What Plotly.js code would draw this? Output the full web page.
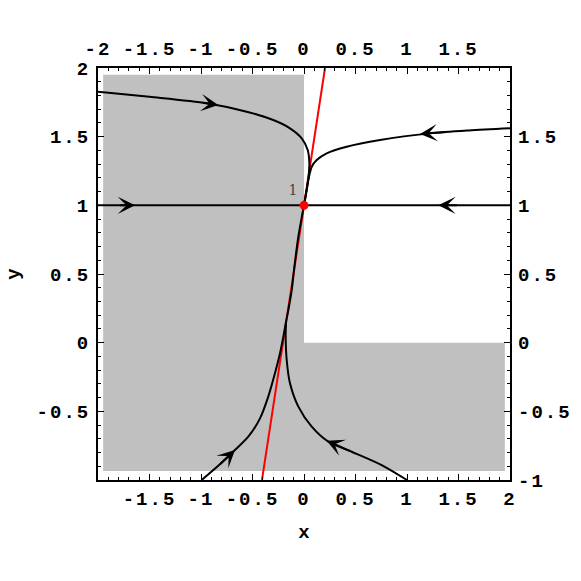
<!DOCTYPE html>
<html><head><meta charset="utf-8">
<script src="https://cdn.plot.ly/plotly-3.0.1.min.js"></script>
<style>
body{margin:0;background:#fff}
.xtick text, .x2tick text, .ytick text, .y2tick text { letter-spacing: 2px; }
</style>
</head><body><div id="chart" style="width:581px;height:581px"></div>
<script>
// shaded region (x<0 or y<0)
const regionX = [-1.95, 0, 0, 1.95, 1.95, -1.95, -1.95];
const regionY = [1.95, 1.95, 0, 0, -0.935, -0.935, 1.95];
// red line through the equilibrium
const redLineX = [-0.408, 0.204];
const redLineY = [-1, 2];
// equilibrium point
const eqX = [0];
const eqY = [1];
const eqLabel = ['1'];
// trajectories
const trajAX = [-2.0, -1.5, -0.945, -0.556, -0.298, -0.136, -0.022, 0.036, 0.052, 0.045, 0.026, 0];
const trajAY = [1.827, 1.79, 1.743, 1.682, 1.621, 1.561, 1.488, 1.403, 1.306, 1.209, 1.112, 1.0];
const trajBX = [2.0, 1.6, 1.223, 0.738, 0.414, 0.220, 0.123, 0.075, 0.052, 0.036, 0.026, 0];
const trajBY = [1.561, 1.545, 1.524, 1.476, 1.427, 1.379, 1.330, 1.281, 1.221, 1.16, 1.112, 1.0];
const trajCX = [-0.993, -0.83, -0.670, -0.541, -0.427, -0.347, -0.282, -0.233, -0.201, -0.175, -0.152, -0.119, -0.097, -0.055, 0];
const trajCY = [-1.0, -0.895, -0.782, -0.685, -0.551, -0.393, -0.223, -0.077, 0.043, 0.15, 0.238, 0.383, 0.529, 0.772, 1.0];
const trajDX = [1.0, 0.754, 0.463, 0.236, 0.075, -0.055, -0.136, -0.168, -0.178, -0.175];
const trajDY = [-1.0, -0.891, -0.794, -0.721, -0.612, -0.466, -0.296, -0.126, 0.043, 0.15];
const trajHX = [-2, 2];
const trajHY = [1, 1];
// arrowheads: tip and tail points along trajectories
const arrowTipX = [-0.832, -1.64, 1.304, 1.126, -0.670, 0.220];
const arrowTipY = [1.731, 1, 1, 1.52, -0.782, -0.714];
const arrowTailX = [-1.0, -1.8, 1.5, 1.4, -0.83, 0.463];
const arrowTailY = [1.748, 1, 1, 1.535, -0.895, -0.794];
// ticks
const xTickVals = [-2, -1.5, -1, -0.5, 0, 0.5, 1, 1.5, 2];
const xBottomText = ['', '-1.5', '-1', '-0.5', '0', '0.5', '1', '1.5', '2'];
const xTopText = ['-2', '-1.5', '-1', '-0.5', '0', '0.5', '1', '1.5', ''];
const yTickVals = [-1, -0.5, 0, 0.5, 1, 1.5, 2];
const yLeftText = ['', '-0.5', '0', '0.5', '1', '1.5', '2'];
const yRightText = ['-1', '-0.5', '0', '0.5', '1', '1.5', ''];

const tickFont = {family: 'Liberation Mono, Courier New, monospace', size: 19, color: '#000', weight: 'bold'};
const titleFont = {family: 'Liberation Mono, Courier New, monospace', size: 19, color: '#000', weight: 'bold'};
const curve = {color: '#000', width: 2};
const spl = {shape: 'spline', smoothing: 0.8};

const traces = [
  {x: regionX, y: regionY, mode: 'lines', fill: 'toself', fillcolor: '#c0c0c0', line: {width: 0}, hoverinfo: 'skip'},
  {x: redLineX, y: redLineY, mode: 'lines', line: {color: '#ff0000', width: 2}},
  {x: trajAX, y: trajAY, mode: 'lines', line: Object.assign({}, spl, curve)},
  {x: trajBX, y: trajBY, mode: 'lines', line: Object.assign({}, spl, curve)},
  {x: trajCX, y: trajCY, mode: 'lines', line: Object.assign({}, spl, curve)},
  {x: trajDX, y: trajDY, mode: 'lines', line: Object.assign({}, spl, curve)},
  {x: trajHX, y: trajHY, mode: 'lines', line: curve},
  {x: eqX, y: eqY, mode: 'markers+text', text: eqLabel, textposition: 'top left',
   textfont: {family: 'DejaVu Serif, serif', size: 14, color: '#444'},
   marker: {color: '#ff0000', size: 9}, cliponaxis: false},
  {x: [0], y: [0], xaxis: 'x2', yaxis: 'y2', mode: 'markers', marker: {opacity: 0}, hoverinfo: 'skip'}
];

const annotations = arrowTipX.map((x, i) => ({
  x: x, y: arrowTipY[i], ax: arrowTailX[i], ay: arrowTailY[i],
  xref: 'x', yref: 'y', axref: 'x', ayref: 'y',
  text: '', showarrow: true, arrowhead: 3, arrowsize: 1.45, arrowwidth: 2, arrowcolor: '#000', standoff: 0
}));

const baseAxis = {
  showgrid: false, zeroline: false, tickmode: 'array', ticks: 'inside', ticklen: 6, tickwidth: 1,
  tickcolor: '#000', tickfont: tickFont,
  minor: {tickmode: 'linear', tick0: 0, dtick: 0.1, ticks: 'inside', ticklen: 3, tickwidth: 1, tickcolor: '#000', showgrid: false}
};

const layout = {
  width: 581, height: 581,
  margin: {l: 98, r: 71, t: 68, b: 101},
  paper_bgcolor: '#fff', plot_bgcolor: '#fff',
  showlegend: false,
  xaxis: Object.assign({}, baseAxis, {range: [-2, 2], tickvals: xTickVals, ticktext: xBottomText,
    showline: true, linewidth: 2, linecolor: '#000', mirror: true,
    title: {text: 'x', font: titleFont, standoff: 15}}),
  yaxis: Object.assign({}, baseAxis, {range: [-1, 2], tickvals: yTickVals, ticktext: yLeftText,
    showline: true, linewidth: 2, linecolor: '#000', mirror: true, ticklabelstandoff: 2,
    title: {text: 'y', font: titleFont, standoff: 12}}),
  xaxis2: Object.assign({}, baseAxis, {range: [-2, 2], tickvals: xTickVals, ticktext: xTopText,
    overlaying: 'x', side: 'top', anchor: 'y', showline: false, ticklabelstandoff: 8}),
  yaxis2: Object.assign({}, baseAxis, {range: [-1, 2], tickvals: yTickVals, ticktext: yRightText,
    overlaying: 'y', side: 'right', anchor: 'x', showline: false, ticklabelstandoff: 7}),
  annotations: annotations
};

Plotly.newPlot('chart', traces, layout, {displayModeBar: false, staticPlot: true});
</script>
</body></html>
